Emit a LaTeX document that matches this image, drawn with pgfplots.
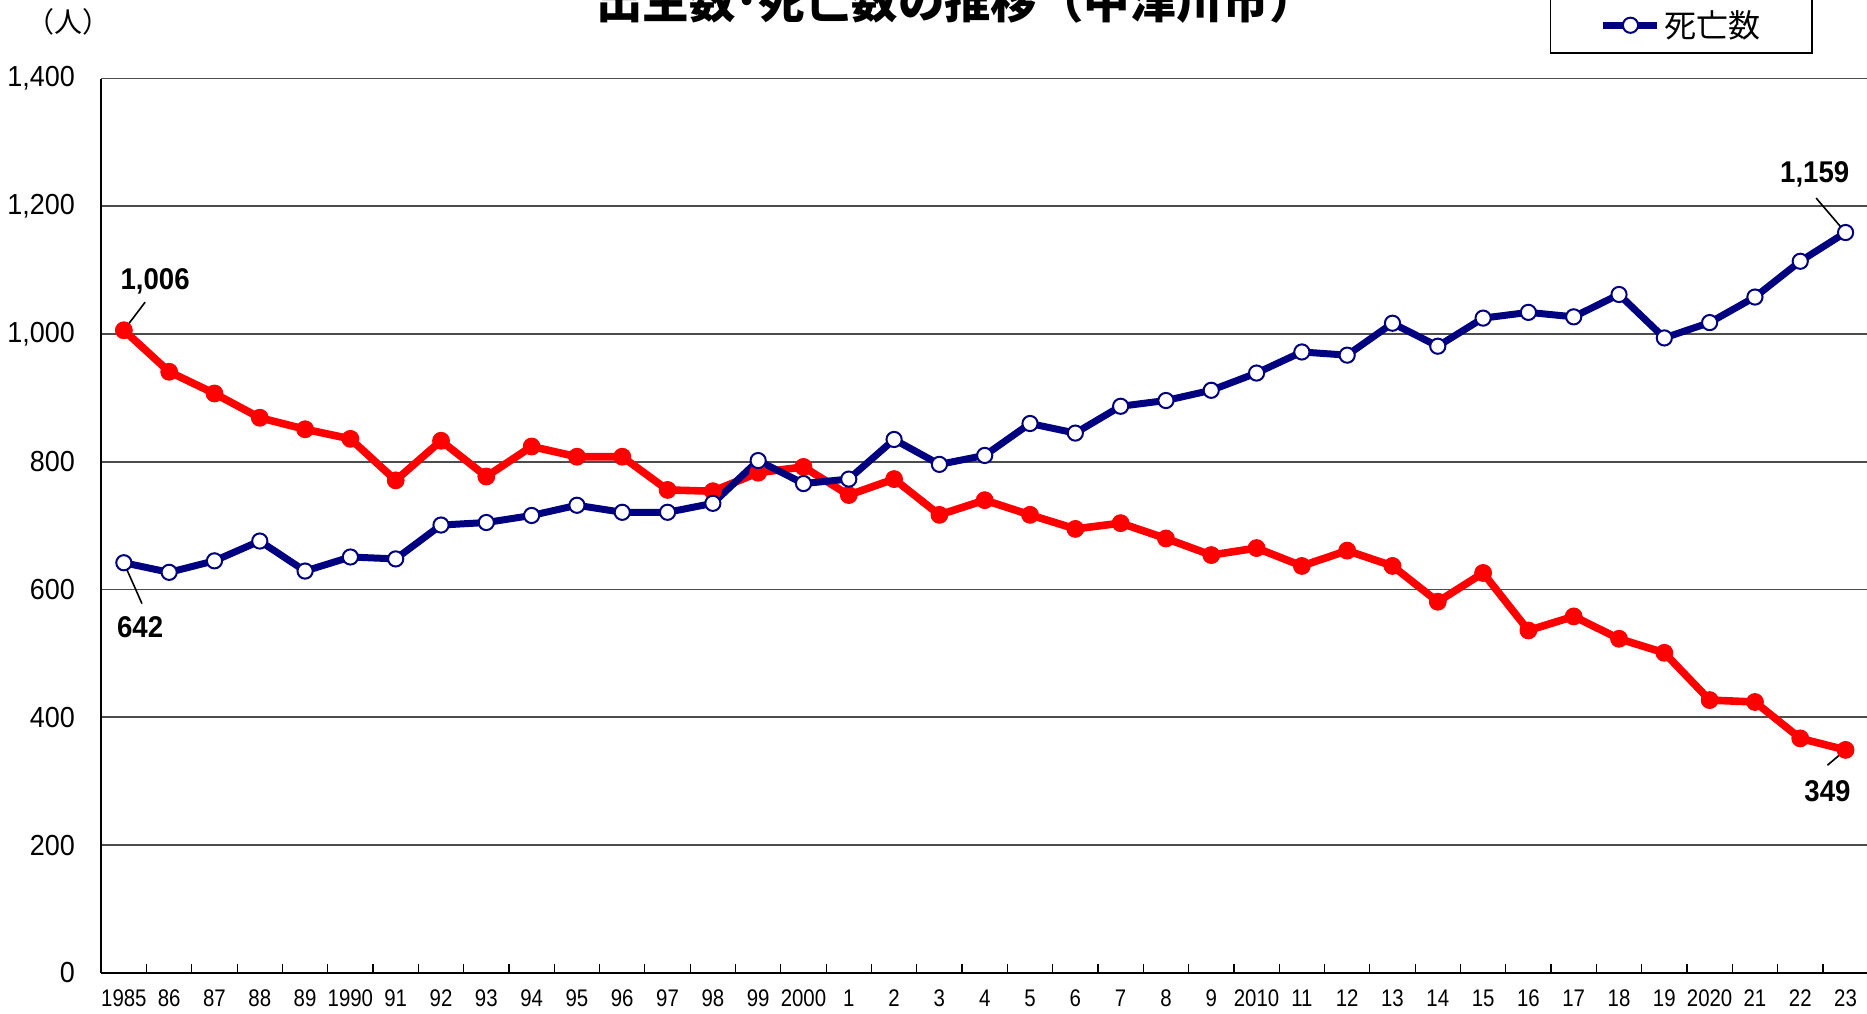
\documentclass[border=0pt]{standalone}
\usepackage{pgfplots}
\pgfplotsset{compat=1.18}
\usepackage{fontspec}
\setmainfont{Liberation Sans}
\newfontfamily\jp{Noto Sans CJK JP}
\newfontfamily\xnum[FakeStretch=0.85]{Liberation Sans}
\newfontfamily\ynum[FakeStretch=0.93]{Liberation Sans}
\newfontfamily\bnum[FakeStretch=0.92]{Liberation Sans}
\definecolor{birthred}{RGB}{255,0,0}
\definecolor{deathnavy}{RGB}{0,0,128}
\begin{document}
\begin{tikzpicture}
\begin{axis}[
  at={(0,0)}, anchor=south west,
  scale only axis,
  width=883.5pt, height=447.1pt,
  xmin=-0.5, xmax=38.5, ymin=0, ymax=1400,
  clip=false,
  axis x line*=bottom, axis y line*=left,
  axis line style={black, line width=1pt, -},
  xtick={0,...,38},
  xticklabels={1985,86,87,88,89,1990,91,92,93,94,95,96,97,98,99,2000,1,2,3,4,5,6,7,8,9,2010,11,12,13,14,15,16,17,18,19,2020,21,22,23},
  minor xtick={-0.5,0.5,...,38.5},
  major tick length=0pt,
  minor tick length=4.5pt,
  tick align=inside,
  minor tick style={black, line width=0.6pt},
  ytick={0,200,...,1400},
  yticklabels={0,200,400,600,800,{1,000},{1,200},{1,400}},
  ymajorgrids,
  major grid style={black!70, line width=0.9pt},
  /pgf/number format/assume math mode=true,
  xticklabel style={font=\xnum\fontsize{12pt}{14pt}\selectfont, anchor=north, inner sep=0pt, yshift=-8.3pt},
  yticklabel style={font=\ynum\fontsize{14.5pt}{16pt}\selectfont, anchor=east, inner sep=0pt, xshift=-13pt},
  legend cell align=left,
  legend style={at={(0.9688,1.0275)}, anchor=south east, draw=black, line width=0.8pt, fill=white,
    font=\jp\fontsize{16pt}{19pt}\selectfont, inner xsep=24.5pt, inner ysep=5pt,
    nodes={inner sep=1.5pt}, row sep=6pt},
  legend image code/.code={\draw[mark repeat=2,mark phase=2,#1] plot coordinates {(0pt,0pt) (13.5pt,0pt) (27pt,0pt)};},
]
\addplot[birthred, line width=3.8pt, mark=*, mark size=4.2pt, mark options={solid, fill=birthred, draw=birthred, line width=0.5pt}]
coordinates {
(0,1006) (1,941) (2,907) (3,869) (4,851) (5,836) (6,771) (7,833) (8,777) (9,824)
(10,808) (11,808) (12,756) (13,754) (14,783) (15,792) (16,748) (17,773) (18,717) (19,740)
(20,717) (21,695) (22,704) (23,680) (24,654) (25,665) (26,637) (27,661) (28,637) (29,581)
(30,626) (31,536) (32,558) (33,523) (34,501) (35,427) (36,424) (37,367) (38,349)
};
\addlegendentry{出生数}
\addplot[deathnavy, line width=3.5pt, mark=*, mark size=3.8pt, mark options={solid, fill=white, draw=deathnavy, line width=1pt}]
coordinates {
(0,642) (1,627) (2,645) (3,676) (4,629) (5,651) (6,648) (7,701) (8,705) (9,716)
(10,732) (11,721) (12,721) (13,735) (14,802) (15,766) (16,773) (17,835) (18,796) (19,810)
(20,860) (21,845) (22,887) (23,896) (24,912) (25,939) (26,972) (27,967) (28,1017) (29,981)
(30,1025) (31,1034) (32,1027) (33,1062) (34,994) (35,1018) (36,1058) (37,1114) (38,1159)
};
\addlegendentry{死亡数}
% data labels with leader lines
\draw[black, line width=0.8pt] (axis cs:0.47,1050) -- (axis cs:0,1006);
\node[font=\bnum\bfseries\fontsize{15pt}{17pt}\selectfont] at (axis cs:0.69,1083) {1,006};
\draw[black, line width=0.8pt] (axis cs:0,642) -- (axis cs:0.40,578);
\node[font=\bnum\bfseries\fontsize{15pt}{17pt}\selectfont] at (axis cs:0.36,540.6) {642};
\draw[black, line width=0.8pt] (axis cs:37.35,1213) -- (axis cs:38,1159);
\node[font=\bnum\bfseries\fontsize{15pt}{17pt}\selectfont] at (axis cs:37.32,1250.7) {1,159};
\draw[black, line width=0.8pt] (axis cs:37.6,325) -- (axis cs:38,349);
\node[font=\bnum\bfseries\fontsize{15pt}{17pt}\selectfont] at (axis cs:37.6,284.5) {349};
\end{axis}
\node[anchor=base, font=\jp\bfseries\fontsize{23.2pt}{26pt}\selectfont] at (427.4pt,477pt) {出生数･死亡数の推移（中津川市）};
\node[font=\jp\fontsize{14pt}{16pt}\selectfont] at (-16.5pt,475.4pt) {（人）};
\pgfresetboundingbox
\path[use as bounding box] (-50.6pt,-20.1pt) rectangle (882.9pt,486.4pt);
\end{tikzpicture}
\end{document}
